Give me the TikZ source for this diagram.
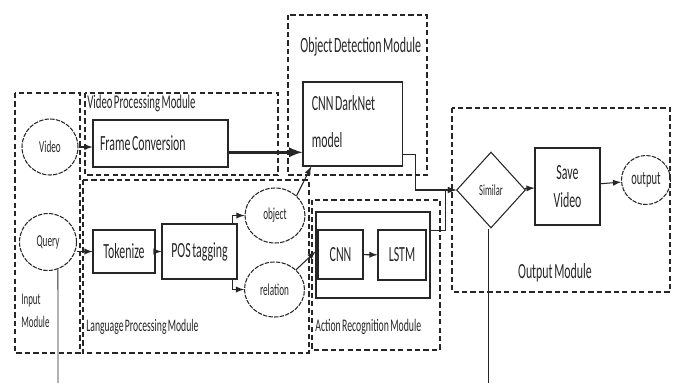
\documentclass[tikz,border=0pt]{standalone}
\usepackage{fontspec}
\setmainfont[FakeStretch=0.55, WordSpace=0.6]{Carlito}
\usetikzlibrary{positioning,shapes.geometric}

\newcommand{\boxtext}{\fontsize{12.3}{14}\selectfont}
\newcommand{\circtext}{\fontsize{9.5}{11}\selectfont}

\begin{document}
\begin{tikzpicture}[x=0.02cm, y=-0.02cm, color=black!85,
    block/.style={rectangle, draw, line width=0.6pt, inner sep=0pt, font=\boxtext},
    term/.style={circle, draw, line width=0.6pt, dash pattern=on 2.5pt off 0.7pt, inner sep=0pt, minimum size=#1, font=\circtext},
    token/.style={ellipse, draw, line width=0.6pt, dash pattern=on 2.5pt off 0.7pt, inner sep=0pt, minimum width=1.2cm, minimum height=1.1cm, font=\circtext},
    module/.style={draw, line width=0.9pt, dash pattern=on 3pt off 1.8pt},
    caption/.style={anchor=west, inner sep=0pt},
    flow/.style={->, >=latex, line width=0.6pt}]
    \useasboundingbox (0,0) rectangle (675,383);

    \draw[module] (15,93) rectangle (80,353);
    \draw[module] (85,93) rectangle (278,175);
    \draw[module] (83,180) rectangle (309,353);
    \draw[module] (288,15) rectangle (427,175);
    \draw[module] (312,200) rectangle (440,350);
    \draw[module] (452,108) rectangle (670,292);

    \node[caption, font=\fontsize{11.1}{13}\selectfont] (VideoLabel) at (87,103) {Video Processing Module};
    \node[caption, font=\fontsize{10}{12}\selectfont] (LangLabel) at (86,327) {Language Processing Module};
    \node[caption, font=\fontsize{12.4}{14}\selectfont] (DetectLabel) at (300,47) {Object Detection Module};
    \node[caption, font=\fontsize{10.1}{12}\selectfont] (ActionLabel) at (315,327) {Action Recognition Module};
    \node[caption, font=\fontsize{9.2}{13}\selectfont, align=left] (InputLabel) at (21,311) {Input\\Module};
    \node[inner sep=0pt, font=\fontsize{12.3}{14}\selectfont] (OutputLabel) at (555,273) {Output Module};

    \node[term=1.12cm] (Video) at (50,147) {Video};
    \node[term=1.14cm] (Query) at (48,242) {Query};
    \node[block, minimum height=0.94cm, inner xsep=4pt] (Frame) at (160.5,143.5) {\makebox[2.42cm][l]{Frame Conversion}};
    \node[block, minimum height=1.68cm, inner xsep=5pt] (Darknet) at (352.5,124)
        {\makebox[1.63cm][l]{\begin{tabular}{@{}l@{}}CNN DarkNet\\[7pt]model\end{tabular}}};
    \node[block, minimum width=1.24cm, minimum height=0.86cm] (Tokenize) at (124,251.5) {Tokenize};
    \node[block, minimum width=1.5cm, minimum height=1.1cm] (Tagging) at (199.5,251.5) {POS tagging};
    \node[token] (Object) at (275,215.5) {object};
    \node[token] (Relation) at (274.5,289.5) {relation};
    \node[block, minimum width=2.28cm, minimum height=1.72cm] (Action) at (373,255) {};
    \node[block, minimum width=0.9cm, minimum height=0.98cm] (Cnn) at (340.5,254.5) {CNN};
    \node[block, minimum width=0.96cm, minimum height=1cm] (Lstm) at (402,255) {LSTM};
    \node[diamond, draw, line width=0.6pt, inner sep=0pt, minimum width=1.38cm, minimum height=1.52cm, font=\fontsize{8.8}{10}\selectfont] (Similar) at (491,190) {Similar};
    \node[block, minimum width=1.3cm, minimum height=1.54cm, align=center] (Save) at (567.5,186.5) {Save\\[2pt]Video};
    \node[term=0.98cm, font=\fontsize{10.9}{12}\selectfont] (Output) at (646,180) {output};
    \coordinate (QueryTail) at (58,383);
    \coordinate (SimilarTail) at (488,383);

    \draw[flow] (Video) -- (Video -| Frame.west);
    \draw[flow, line width=1.6pt] ([yshift=-5pt]Frame.east) -- ([yshift=-5pt]Frame.east -| Darknet.west);
    \draw[flow] (Query.east |- Tokenize) -- (Tokenize.west);
    \draw[flow] (Tokenize) -- (Tagging);
    \draw[flow] ([xshift=-3pt]Tagging.north east) |- (Object.west);
    \draw[flow] ([xshift=-3pt]Tagging.south east) |- (Relation.west);
    \draw[flow] (Object.north east) -- ([xshift=5pt]Darknet.south west);
    \draw[flow] (Relation.north east) -- ([yshift=2pt]Action.west);
    \draw[flow] (Cnn) -- (Lstm);
    \draw[flow] ([yshift=7pt]Darknet.south east) -- ++(13,0) |- (Similar.west);
    \draw[flow] ([yshift=-11pt]Action.north east) -- ++(15,0) |- (Similar.west);
    \draw[flow] (Similar) -- (Save);
    \draw[flow] (Save) -- (Output);
    \draw[line width=0.5pt] (Query.-70) -- (QueryTail);
    \draw[line width=0.5pt] (Similar.south -| SimilarTail) -- (SimilarTail);
\end{tikzpicture}
\end{document}
